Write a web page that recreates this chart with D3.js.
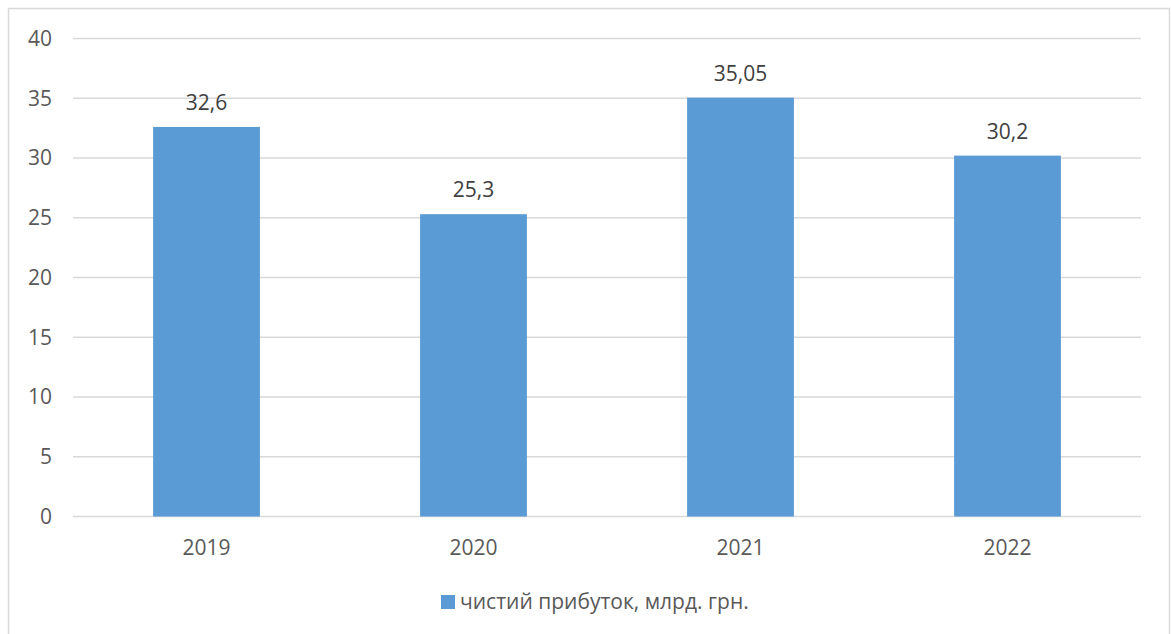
<!DOCTYPE html>
<html>
<head>
<meta charset="utf-8">
<script src="https://cdn.jsdelivr.net/npm/d3@7"></script>
<style>
  body { margin: 0; background: #fff; }
  svg { display: block; font-family: "Open Sans", "Noto Sans", sans-serif; }
</style>
</head>
<body>
<div id="chart"></div>
<script>
const years = ["2019", "2020", "2021", "2022"];
const profit = [32.6, 25.3, 35.05, 30.2];
const profitLabels = ["32,6", "25,3", "35,05", "30,2"];
const yTicks = [0, 5, 10, 15, 20, 25, 30, 35, 40];
const seriesName = "чистий прибуток, млрд. грн.";

const width = 1171, height = 634;
const plot = { left: 73, right: 1141, top: 38.5, bottom: 516.5 };
const fontSize = "21px";

const svg = d3.select("#chart")
  .append("svg")
  .attr("width", width)
  .attr("height", height);

// chart frame
svg.append("rect")
  .attr("x", 8.5).attr("y", 8.5)
  .attr("width", 1161).attr("height", 640)
  .attr("fill", "#fff")
  .attr("stroke", "#d9d9d9")
  .attr("stroke-width", 1.5);

let x = d3.scaleBand()
  .domain(years)
  .range([plot.left, plot.right])
  .paddingInner(0.6)
  .paddingOuter(0.3);

let y = d3.scaleLinear().domain([0, 40]).range([plot.bottom, plot.top]);

// grid lines
svg.append("g")
  .selectAll("line")
  .data(yTicks)
  .join("line")
  .attr("x1", plot.left)
  .attr("x2", plot.right)
  .attr("y1", d => y(d))
  .attr("y2", d => y(d))
  .attr("stroke", "#d9d9d9")
  .attr("stroke-width", 1.5);

// y tick labels
svg.append("g")
  .selectAll("text")
  .data(yTicks)
  .join("text")
  .attr("x", 52)
  .attr("y", d => y(d))
  .attr("dy", "0.35em")
  .attr("text-anchor", "end")
  .attr("fill", "#595959")
  .style("font-size", fontSize)
  .text(d => d);

//draw bars
svg.append("g")
  .selectAll("rect")
  .data(profit)
  .join("rect")
  .attr("x", (d, i) => x(years[i]))
  .attr("width", x.bandwidth())
  .attr("y", d => y(d))
  .attr("height", d => y(0) - y(d))
  .attr("fill", "#5b9bd5");

// value labels
svg.append("g")
  .selectAll("text")
  .data(profit)
  .join("text")
  .attr("x", (d, i) => x(years[i]) + x.bandwidth() / 2)
  .attr("y", d => y(d) - 17)
  .attr("text-anchor", "middle")
  .attr("fill", "#404040")
  .style("font-size", fontSize)
  .text((d, i) => profitLabels[i]);

// category labels
svg.append("g")
  .selectAll("text")
  .data(years)
  .join("text")
  .attr("x", d => x(d) + x.bandwidth() / 2)
  .attr("y", 548)
  .attr("dy", "0.35em")
  .attr("text-anchor", "middle")
  .attr("fill", "#595959")
  .style("font-size", fontSize)
  .text(d => d);

// legend
const legend = svg.append("g").attr("transform", "translate(441,602)");
legend.append("rect")
  .attr("x", 0).attr("y", -7)
  .attr("width", 14).attr("height", 14)
  .attr("fill", "#5b9bd5");
legend.append("text")
  .attr("x", 19)
  .attr("y", 0)
  .attr("dy", "0.35em")
  .attr("fill", "#595959")
  .style("font-size", fontSize)
  .text(seriesName);
</script>
</body>
</html>
